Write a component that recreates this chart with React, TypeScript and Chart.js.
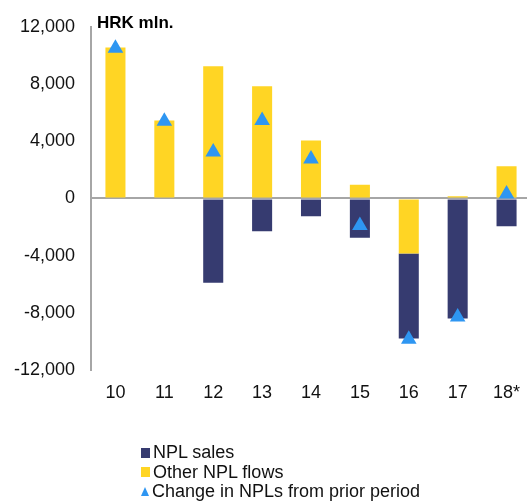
import React, { useEffect, useRef } from "react";
import { Chart, registerables } from "chart.js";

Chart.register(...registerables);

const categories = ["10", "11", "12", "13", "14", "15", "16", "17", "18*"];
const nplSales = [0, 0, -5900, -2300, -1250, -2750, -5950, -8400, -1950];
const otherFlows = [10550, 5450, 9250, 7850, 4050, 950, -3850, 150, 2250];
const changeNPL = [10500, 5400, 3250, 5450, 2750, -1900, -9850, -8300, 300];
const yTicks = [-12000, -8000, -4000, 0, 4000, 8000, 12000];

const NAVY = "#363b70";
const YELLOW = "#ffd524";
const BLUE = "#2e96f2";
const FONT = "'Liberation Sans', Arial, sans-serif";

const titlePlugin = {
  id: "unitTitle",
  afterDraw(chart: any) {
    const ctx = chart.ctx;
    ctx.save();
    ctx.font = `bold 17px ${FONT}`;
    ctx.fillStyle = "#000";
    ctx.textBaseline = "middle";
    ctx.textAlign = "left";
    ctx.fillText("HRK mln.", chart.chartArea.left + 6, 23);
    ctx.restore();
  },
};

export default function App() {
  const ref = useRef<HTMLCanvasElement | null>(null);

  useEffect(() => {
    if (!ref.current) return;
    const chart = new Chart(ref.current, {
      type: "bar",
      data: {
        labels: categories,
        datasets: [
          {
            type: "bar",
            label: "NPL sales",
            data: nplSales,
            backgroundColor: NAVY,
            order: 2,
            stack: "flows",
            barPercentage: 0.41,
            categoryPercentage: 1,
          },
          {
            type: "bar",
            label: "Other NPL flows",
            data: otherFlows,
            backgroundColor: YELLOW,
            order: 1,
            stack: "flows",
            barPercentage: 0.41,
            categoryPercentage: 1,
          },
          {
            type: "line",
            label: "Change in NPLs from prior period",
            data: changeNPL,
            showLine: false,
            pointStyle: "triangle",
            pointRadius: 9,
            pointHoverRadius: 9,
            pointBackgroundColor: BLUE,
            pointBorderColor: BLUE,
            pointBorderWidth: 0,
            backgroundColor: BLUE,
            borderColor: BLUE,
            order: 0,
            stack: "tri",
          } as any,
        ],
      },
      options: {
        responsive: false,
        animation: false,
        devicePixelRatio: 1,
        layout: { padding: { left: 0, top: 22, right: 8, bottom: 0 } },
        plugins: {
          legend: { display: false },
          tooltip: { enabled: false },
        },
        scales: {
          x: {
            stacked: true,
            grid: { display: false, drawTicks: false },
            border: { display: false },
            ticks: {
              color: "#111",
              font: { family: FONT, size: 18 },
              padding: 12,
            },
            afterFit: (scale: any) => {
              scale.height = 132;
            },
          },
          y: {
            stacked: true,
            min: -12000,
            max: 12000,
            afterBuildTicks: (scale: any) => {
              scale.ticks = yTicks.map((v) => ({ value: v }));
            },
            ticks: {
              color: "#111",
              font: { family: FONT, size: 18 },
              padding: 16,
              callback: (v: any) => Number(v).toLocaleString("en-US"),
            },
            grid: {
              drawTicks: false,
              color: (ctx: any) => (ctx.tick && ctx.tick.value === 0 ? "#a6a6a6" : "rgba(0,0,0,0)"),
              lineWidth: 2,
            },
            border: { display: true, color: "#a6a6a6", width: 2 },
            afterFit: (scale: any) => {
              scale.width = 91;
            },
          },
        },
      },
      plugins: [titlePlugin],
    });
    return () => chart.destroy();
  }, []);

  const row: React.CSSProperties = {
    display: "flex",
    alignItems: "center",
    height: 19.5,
    lineHeight: "19.5px",
    whiteSpace: "nowrap",
  };

  return (
    <div style={{ position: "fixed", left: 0, top: 0, width: 540, height: 502 }}>
      <canvas ref={ref} width={540} height={502} style={{ display: "block" }} />
      <div
        style={{
          position: "absolute",
          left: 141,
          top: 443,
          fontFamily: FONT,
          fontSize: 18,
          color: "#111",
        }}
      >
        <div style={row}>
          <span style={{ display: "inline-block", width: 9, height: 10, background: NAVY, marginRight: 3 }} />
          <span>NPL sales</span>
        </div>
        <div style={row}>
          <span style={{ display: "inline-block", width: 9, height: 10, background: YELLOW, marginRight: 3 }} />
          <span>Other NPL flows</span>
        </div>
        <div style={row}>
          <span
            style={{
              display: "inline-block",
              width: 0,
              height: 0,
              borderLeft: "4.5px solid transparent",
              borderRight: "4.5px solid transparent",
              borderBottom: "9px solid " + BLUE,
              marginRight: 3,
            }}
          />
          <span>Change in NPLs from prior period</span>
        </div>
      </div>
    </div>
  );
}
